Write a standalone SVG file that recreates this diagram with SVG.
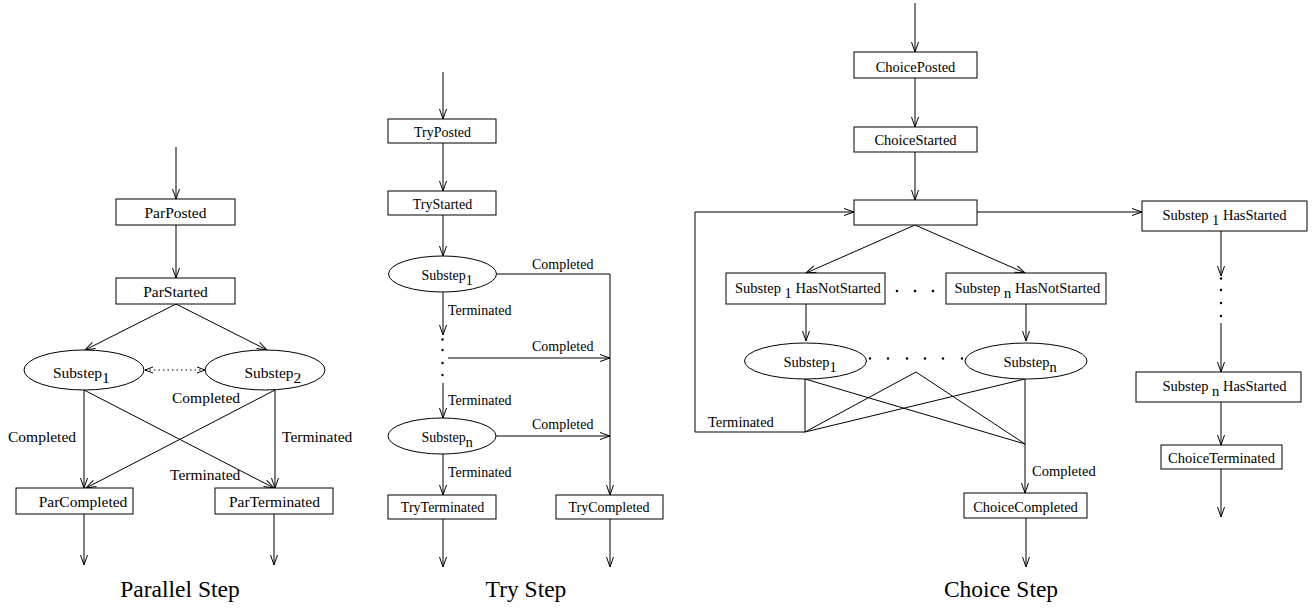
<svg xmlns="http://www.w3.org/2000/svg" width="1315" height="608" viewBox="0 0 1315 608">
<style>
.n{fill:#fff;stroke:#000;stroke-width:1}
.c{fill:none;stroke:#000;stroke-width:1}
.a{marker-end:url(#ah)}
text{font-family:"Liberation Serif","Times New Roman",serif;fill:#000}
.m{text-anchor:middle}
.p{font-size:15.5px}
.t{font-size:14px}
.h{font-size:14.5px}
.ttl{font-size:23.5px;text-anchor:middle}
</style>
<defs>
<marker id="ah" viewBox="-11 -5 12 10" refX="0" refY="0" markerWidth="12" markerHeight="10" markerUnits="userSpaceOnUse" orient="auto">
<path d="M-10,-3.5 L0,0 L-10,3.5" fill="none" stroke="#000" stroke-width="1"/>
</marker>
<marker id="ad" viewBox="-9 -4 10 8" refX="0" refY="0" markerWidth="10" markerHeight="8" markerUnits="userSpaceOnUse" orient="auto-start-reverse">
<path d="M-8,-3 L0,0 L-8,3" fill="none" stroke="#000" stroke-width="1"/>
</marker>
</defs>
<rect width="1315" height="608" fill="#fff"/>

<!-- connectors -->
<g id="connectors" class="c">
<!-- parallel -->
<path class="a" d="M176,147 V199"/>
<path class="a" d="M176,225 V278"/>
<path class="a" d="M176,304 L85,350"/>
<path class="a" d="M176,304 L267,350"/>
<path d="M145,370 H205" stroke-dasharray="1.5 3" marker-start="url(#ad)" marker-end="url(#ad)"/>
<path class="a" d="M84,390 V488"/>
<path class="a" d="M84,390 L274,488"/>
<path class="a" d="M275,390 V488"/>
<path class="a" d="M275,390 L86,488"/>
<path class="a" d="M84,514 V565"/>
<path class="a" d="M274,514 V565"/>
<!-- try -->
<path class="a" d="M443,72 V119"/>
<path class="a" d="M443,143 V191"/>
<path class="a" d="M443,215 V256"/>
<path class="a" d="M497,274 H610 V495"/>
<path class="a" d="M443,292 V335"/>
<path class="a" d="M448,358 H610"/>
<path class="a" d="M443,383 V418"/>
<path class="a" d="M496,436 H610"/>
<path class="a" d="M443,454 V495"/>
<path class="a" d="M443,519 V567"/>
<path class="a" d="M610,519 V567"/>
<!-- choice -->
<path class="a" d="M915,3 V52"/>
<path class="a" d="M915,78 V127"/>
<path class="a" d="M915,152 V200"/>
<path class="a" d="M805,432 H695 V212 H854"/>
<path class="a" d="M977,212 H1142"/>
<path class="a" d="M915,225 L806,273"/>
<path class="a" d="M915,225 L1025,273"/>
<path class="a" d="M806,304 V341"/>
<path class="a" d="M1026,304 V341"/>
<path d="M805,379 V432"/>
<path d="M805,379 L1025,444"/>
<path d="M1025,379 L805,432"/>
<path d="M805,432 L916,372 L1025,444"/>
<path class="a" d="M1025,379 V493"/>
<path class="a" d="M1026,518 V567"/>
<path class="a" d="M1221,231 V276"/>
<path class="a" d="M1221,323 V372"/>
<path class="a" d="M1221,402 V445"/>
<path class="a" d="M1221,469 V517"/>
</g>

<g id="dots" fill="#000">
<circle cx="442.5" cy="339.5" r="1.2"/><circle cx="442.5" cy="350" r="1.2"/><circle cx="442.5" cy="363" r="1.2"/><circle cx="442.5" cy="375" r="1.2"/>
<circle cx="897" cy="291" r="1.3"/><circle cx="915" cy="291" r="1.3"/><circle cx="933" cy="291" r="1.3"/>
<circle cx="870" cy="358.5" r="1.2"/><circle cx="888" cy="358.5" r="1.2"/><circle cx="907" cy="358.5" r="1.2"/><circle cx="925" cy="358.5" r="1.2"/><circle cx="943" cy="358.5" r="1.2"/><circle cx="962" cy="358.5" r="1.2"/>
<circle cx="1221" cy="278.5" r="1.2"/><circle cx="1221" cy="290" r="1.2"/><circle cx="1221" cy="303" r="1.2"/><circle cx="1221" cy="316" r="1.2"/>
</g>

<g id="edge-labels">
<text class="p" x="8" y="442">Completed</text>
<text class="p" x="282" y="442">Terminated</text>
<text class="p" x="172" y="403">Completed</text>
<text class="p" x="170" y="480">Terminated</text>
<text class="t" x="532" y="269">Completed</text>
<text class="t" x="448" y="315">Terminated</text>
<text class="t" x="532" y="351">Completed</text>
<text class="t" x="448" y="405">Terminated</text>
<text class="t" x="532" y="429">Completed</text>
<text class="t" x="448" y="477">Terminated</text>
<text class="h" x="708" y="427">Terminated</text>
<text class="h" x="1032" y="476">Completed</text>
</g>

<!-- Parallel step nodes -->
<g id="ParPosted"><rect class="n" x="116" y="199" width="119" height="26"/><text class="p m" x="175.5" y="217.5">ParPosted</text></g>
<g id="ParStarted"><rect class="n" x="116" y="278" width="119" height="26"/><text class="p m" x="175.5" y="296.5">ParStarted</text></g>
<g id="ParSubstep1"><ellipse class="n" cx="84" cy="370" rx="60" ry="20"/><text class="p" x="53" y="378">Substep<tspan dy="5">1</tspan></text></g>
<g id="ParSubstep2"><ellipse class="n" cx="265" cy="370" rx="60" ry="20"/><text class="p" x="244.5" y="378">Substep<tspan dy="5">2</tspan></text></g>
<g id="ParCompleted"><rect class="n" x="16" y="488" width="117" height="26"/><text class="p m" x="83" y="506.5">ParCompleted</text></g>
<g id="ParTerminated"><rect class="n" x="215" y="488" width="118" height="26"/><text class="p m" x="274.5" y="506.5">ParTerminated</text></g>
<text id="title-parallel" class="ttl" x="180" y="597">Parallel Step</text>

<!-- Try step nodes -->
<g id="TryPosted"><rect class="n" x="388" y="119" width="108" height="24"/><text class="t m" x="442.5" y="136.5">TryPosted</text></g>
<g id="TryStarted"><rect class="n" x="388" y="191" width="108" height="24"/><text class="t m" x="442.5" y="208.5">TryStarted</text></g>
<g id="TrySubstep1"><ellipse class="n" cx="442.5" cy="274" rx="54" ry="18"/><text class="t" x="421.5" y="279.5">Substep<tspan dy="5">1</tspan></text></g>
<g id="TrySubstepN"><ellipse class="n" cx="442" cy="436" rx="54" ry="18"/><text class="t" x="421.5" y="441.5">Substep<tspan dy="5">n</tspan></text></g>
<g id="TryTerminated"><rect class="n" x="388" y="495" width="108" height="24"/><text class="t m" x="442.5" y="512">TryTerminated</text></g>
<g id="TryCompleted"><rect class="n" x="556" y="495" width="107" height="24"/><text class="t m" x="609" y="512">TryCompleted</text></g>
<text id="title-try" class="ttl" x="526" y="597">Try Step</text>

<!-- Choice step nodes -->
<g id="ChoicePosted"><rect class="n" x="854" y="52" width="123" height="26"/><text class="h m" x="915.5" y="71.5">ChoicePosted</text></g>
<g id="ChoiceStarted"><rect class="n" x="854" y="127" width="123" height="25"/><text class="h m" x="915.5" y="145">ChoiceStarted</text></g>
<g id="ChoiceDecision"><rect class="n" x="854" y="200" width="123" height="25"/></g>
<g id="Sub1HasNotStarted"><rect class="n" x="726" y="273" width="159" height="31"/><text class="h" x="735" y="293">Substep <tspan dy="5">1</tspan><tspan dy="-5"> HasNotStarted</tspan></text></g>
<g id="SubNHasNotStarted"><rect class="n" x="946" y="273" width="160" height="31"/><text class="h" x="954.5" y="293">Substep <tspan dy="5">n</tspan><tspan dy="-5"> HasNotStarted</tspan></text></g>
<g id="ChoiceSubstep1"><ellipse class="n" cx="805.5" cy="361" rx="61" ry="18"/><text class="h" x="783.5" y="367">Substep<tspan dy="5">1</tspan></text></g>
<g id="ChoiceSubstepN"><ellipse class="n" cx="1026" cy="361" rx="61" ry="18"/><text class="h" x="1003.5" y="367">Substep<tspan dy="5">n</tspan></text></g>
<g id="ChoiceCompleted"><rect class="n" x="964" y="493" width="123" height="25"/><text class="h m" x="1025.5" y="512">ChoiceCompleted</text></g>
<g id="Sub1HasStarted"><rect class="n" x="1142" y="201" width="165" height="30"/><text class="h" x="1162.5" y="219.5">Substep <tspan dy="5">1</tspan><tspan dy="-5"> HasStarted</tspan></text></g>
<g id="SubNHasStarted"><rect class="n" x="1136" y="372" width="165" height="30"/><text class="h" x="1162.5" y="390.5">Substep <tspan dy="5">n</tspan><tspan dy="-5"> HasStarted</tspan></text></g>
<g id="ChoiceTerminated"><rect class="n" x="1161" y="445" width="121" height="24"/><text class="h m" x="1221.5" y="463">ChoiceTerminated</text></g>
<text id="title-choice" class="ttl" x="1001" y="597">Choice Step</text>
</svg>
